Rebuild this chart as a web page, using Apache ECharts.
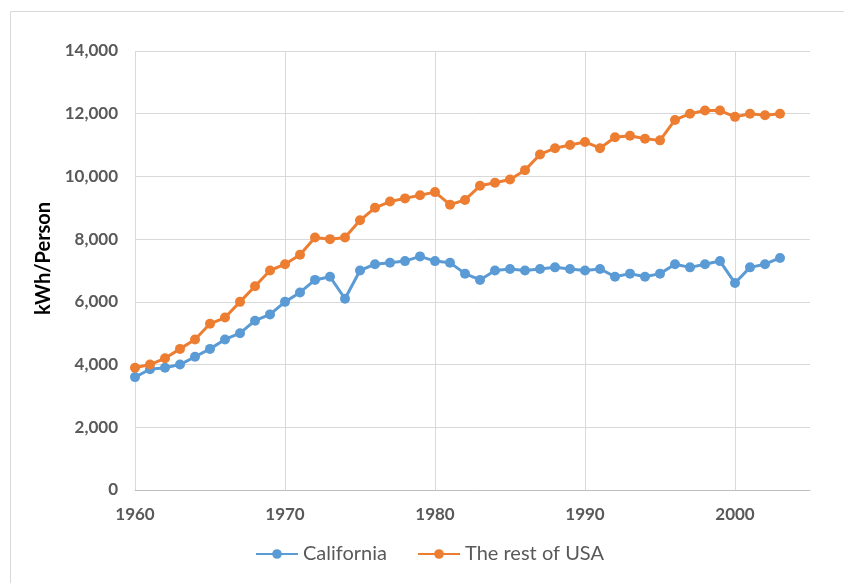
<!DOCTYPE html>
<html>
<head>
<meta charset="utf-8">
<script src="https://cdn.jsdelivr.net/npm/echarts@6/dist/echarts.min.js"></script>
<style>
  html, body { margin: 0; padding: 0; background: #fff; }
  #chart { width: 844px; height: 583px; }
</style>
</head>
<body>
<div id="chart"></div>
<script>
// years 1960 - 2003
var years = [];
for (var y = 1960; y <= 2003; y++) years.push(y);

// kWh per person
var california = [
  3600, 3850, 3900, 4000, 4250, 4500, 4800, 5000, 5400, 5600,
  6000, 6300, 6700, 6800, 6100, 7000, 7200, 7250, 7300, 7450,
  7300, 7250, 6900, 6700, 7000, 7050, 7000, 7050, 7100, 7050,
  7000, 7050, 6800, 6900, 6800, 6900, 7200, 7100, 7200, 7300,
  6600, 7100, 7200, 7400
];
var restOfUsa = [
  3900, 4000, 4200, 4500, 4800, 5300, 5500, 6000, 6500, 7000,
  7200, 7500, 8050, 8000, 8050, 8600, 9000, 9200, 9300, 9400,
  9500, 9100, 9250, 9700, 9800, 9900, 10200, 10700, 10900, 11000,
  11100, 10900, 11250, 11300, 11200, 11150, 11800, 12000, 12100, 12100,
  11900, 12000, 11950, 12000
];

function pairs(vals) {
  var out = [];
  for (var i = 0; i < vals.length; i++) out.push([years[i], vals[i]]);
  return out;
}

var chart = echarts.init(document.getElementById('chart'));
var option = {
  animation: false,
  textStyle: { fontFamily: 'Lato' },
  graphic: [{
    type: 'rect',
    shape: { x: 10.5, y: 11.5, width: 900, height: 700 },
    style: { fill: 'none', stroke: '#d9d9d9', lineWidth: 1 },
    silent: true
  }],
  grid: { left: 135, right: 34, top: 51, bottom: 93 },
  legend: {
    left: 250,
    top: 539,
    itemWidth: 42,
    itemHeight: 12,
    itemGap: 30,
    textStyle: { fontSize: 20, color: '#595959', fontFamily: 'Lato' },
    data: ['California', 'The rest of USA']
  },
  xAxis: {
    type: 'value',
    min: 1960,
    max: 2005,
    interval: 10,
    axisLine: { show: true, lineStyle: { color: '#bfbfbf', width: 1 } },
    axisTick: { show: false },
    axisLabel: {
      margin: 16,
      fontSize: 17,
      fontWeight: 'bold',
      color: '#595959',
      formatter: function (v) { return v % 10 === 0 ? String(v) : ''; }
    },
    splitLine: { show: true, showMaxLine: false, lineStyle: { color: '#d9d9d9' } }
  },
  yAxis: {
    type: 'value',
    min: 0,
    max: 14000,
    interval: 2000,
    name: 'kWh/Person',
    nameLocation: 'middle',
    nameGap: 80,
    nameTextStyle: { fontSize: 20, fontWeight: 'bold', color: '#000', fontFamily: 'Lato', padding: [0, 0, 0, 24] },
    axisLine: { show: false },
    axisTick: { show: false },
    axisLabel: {
      margin: 17,
      fontSize: 17,
      fontWeight: 'bold',
      color: '#595959',
      formatter: function (v) { return v.toLocaleString('en-US'); }
    },
    splitLine: { lineStyle: { color: '#d9d9d9' } }
  },
  series: [
    {
      name: 'California',
      type: 'line',
      data: pairs(california),
      symbol: 'circle',
      symbolSize: 10,
      lineStyle: { width: 3, color: '#5b9bd5' },
      itemStyle: { color: '#5b9bd5' }
    },
    {
      name: 'The rest of USA',
      type: 'line',
      data: pairs(restOfUsa),
      symbol: 'circle',
      symbolSize: 10,
      lineStyle: { width: 3, color: '#ed7d31' },
      itemStyle: { color: '#ed7d31' }
    }
  ]
};
chart.setOption(option);
</script>
</body>
</html>
